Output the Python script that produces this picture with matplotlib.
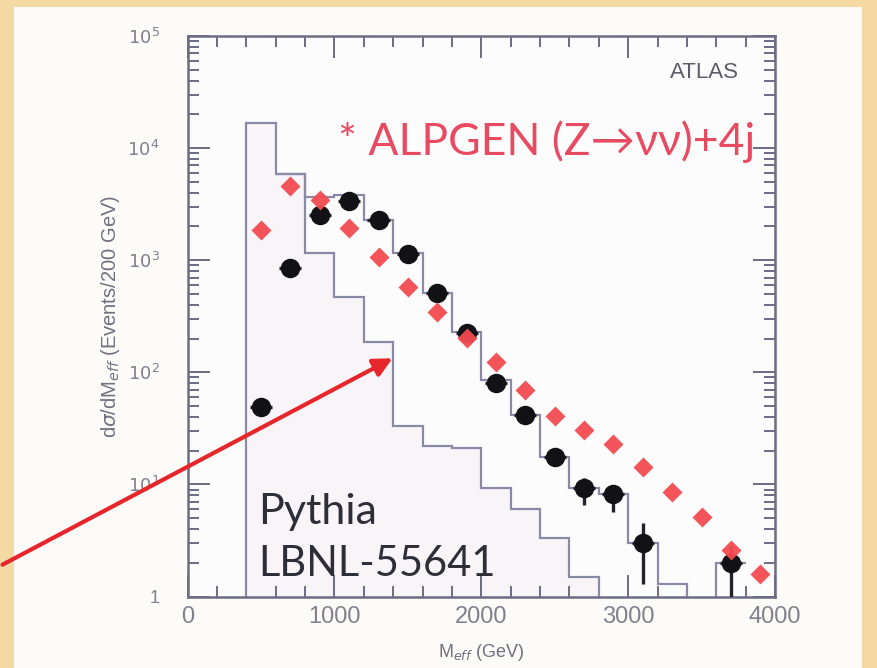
# Meff distribution slide: Pythia vs ALPGEN (Z->nunu)+4j, ATLAS

import numpy as np
import matplotlib.pyplot as plt
from matplotlib.patches import Rectangle, FancyArrowPatch
from matplotlib.ticker import FixedLocator, MultipleLocator, LogLocator, NullFormatter

# Pythia histogram (lower step line), 200 GeV bins
pythia_edges = [400, 600, 800, 1000, 1200, 1400, 1600, 1800, 2000, 2200, 2400, 2600, 2800]
pythia_vals = [16900, 5870, 1170, 467, 185, 33, 22, 21, 9.2, 6.0, 3.3, 1.5]

# step line through the black points
upper_edges = [600, 800, 1000, 1200, 1400, 1600, 1800, 2000, 2200, 2400, 2600, 2800,
               3000, 3200, 3400, 3600, 3800]
upper_vals = [5870, 3680, 3800, 2280, 1160, 507, 230, 85, 42, 17.5, 9.2, 8.2,
              3.0, 1.3, 0.5, 2.0]

# black points
black_x = [500, 700, 900, 1100, 1300, 1500, 1700, 1900, 2100, 2300, 2500, 2700, 2900, 3100, 3700]
black_y = [49, 860, 2520, 3400, 2290, 1135, 507, 223, 80, 41.6, 17.5, 9.2, 8.2, 3.0, 2.0]
black_lo = [3, 40, 90, 110, 80, 40, 25, 15, 8, 5, 3, 2.7, 2.5, 1.7, 1.5]
black_hi = [3, 40, 90, 110, 80, 40, 25, 15, 8, 5, 3, 2.1, 1.5, 1.5, 0.8]

# ALPGEN (red diamonds)
red_x = [500, 700, 900, 1100, 1300, 1500, 1700, 1900, 2100, 2300, 2500, 2700, 2900,
         3100, 3300, 3500, 3700, 3900]
red_y = [1860, 4570, 3440, 1930, 1075, 580, 347, 201, 124, 69.5, 40.8, 30.6, 22.8,
         14.4, 8.5, 5.15, 2.6, 1.59]

W, H = 878, 668
def fx(px):
    return px / W
def fy(py):
    return 1 - py / H

fig = plt.figure(figsize=(W / 100, H / 100), dpi=100)
fig.patch.set_facecolor('#f4d9a2')
# white slide panel
fig.add_artist(Rectangle((fx(14), 0), fx(862) - fx(14), fy(7), transform=fig.transFigure,
                         facecolor='#fcfbf7', edgecolor='none', zorder=0))

ax = fig.add_axes([fx(187.6), fy(596.5), fx(775) - fx(187.6), fy(36) - fy(596.5)])
ax.set_facecolor('#fdfcfc')
ax.set_yscale('log')
ax.set_xlim(0, 4000)
ax.set_ylim(1, 1e5)

frame = '#6c6c84'
ax.stairs(pythia_vals, pythia_edges, baseline=1, fill=True, color='#f9f4f8', zorder=1)
ax.stairs(pythia_vals, pythia_edges, baseline=1, color='#8a8aa8', lw=1.6, zorder=2)
ax.stairs(upper_vals, upper_edges, baseline=None, color='#8a8aa8', lw=1.6, zorder=2)

ax.errorbar(black_x, black_y, yerr=[black_lo, black_hi], xerr=75, fmt='o', ms=13,
            color='#111116', ecolor='#222228', elinewidth=2.4, capsize=0, zorder=4)
ax.plot(red_x, red_y, 'D', ms=10, color='#f24b50', mec='none', zorder=5, alpha=0.95)

for s in ax.spines.values():
    s.set_color(frame)
    s.set_linewidth(1.8)

ax.xaxis.set_major_locator(FixedLocator([0, 1000, 2000, 3000, 4000]))
ax.xaxis.set_minor_locator(MultipleLocator(200))
ax.yaxis.set_minor_locator(LogLocator(base=10, subs=np.arange(2, 10), numticks=50))
ax.yaxis.set_minor_formatter(NullFormatter())
ax.set_yticks([1, 10, 100, 1000, 1e4, 1e5])
ax.set_yticklabels(['1', r'$10^{1}$', r'$10^{2}$', r'$10^{3}$', r'$10^{4}$', r'$10^{5}$'])
ax.tick_params(which='both', direction='in', top=True, right=True, color=frame, width=1.4)
ax.tick_params(which='major', length=16)
ax.tick_params(which='minor', length=8)
ax.tick_params(axis='x', labelsize=17, labelcolor='#80808e', pad=7)
ax.tick_params(axis='y', labelsize=13, labelcolor='#80808e', pad=20)
for lab in ax.get_xticklabels() + ax.get_yticklabels():
    lab.set_family('Liberation Sans')

ax.set_ylabel(r'd$\sigma$/dM$_{eff}$ (Events/200 GeV)', fontsize=14.5, color='#707080',
              family='Liberation Sans', labelpad=4)
ax.set_xlabel(r'M$_{eff}$ (GeV)', fontsize=13, color='#707080', family='Liberation Sans',
              labelpad=10)

fig.text(fx(704), fy(72), 'ATLAS', fontsize=16, color='#5c5c68', ha='center', va='center',
         family='Liberation Sans')
fig.text(fx(338), fy(142), '* ALPGEN (Z\u2192\u03bd\u03bd)+4j', fontsize=32, color='#e84a62',
         ha='left', va='center', family=['Lato', 'DejaVu Sans'])
fig.text(fx(258), fy(512), 'Pythia', fontsize=31, color='#2e2e38', ha='left', va='center',
         family=['Lato', 'DejaVu Sans'])
fig.text(fx(258), fy(564), 'LBNL-55641', fontsize=30, color='#2e2e38', ha='left', va='center',
         family=['Lato', 'DejaVu Sans'])

fig.add_artist(FancyArrowPatch((fx(0), fy(566)), (fx(395), fy(357)), transform=fig.transFigure,
                               arrowstyle='-|>', mutation_scale=28, color='#e6262b', lw=3,
                               zorder=10))

plt.savefig('out.png', dpi=100, facecolor=fig.get_facecolor())
